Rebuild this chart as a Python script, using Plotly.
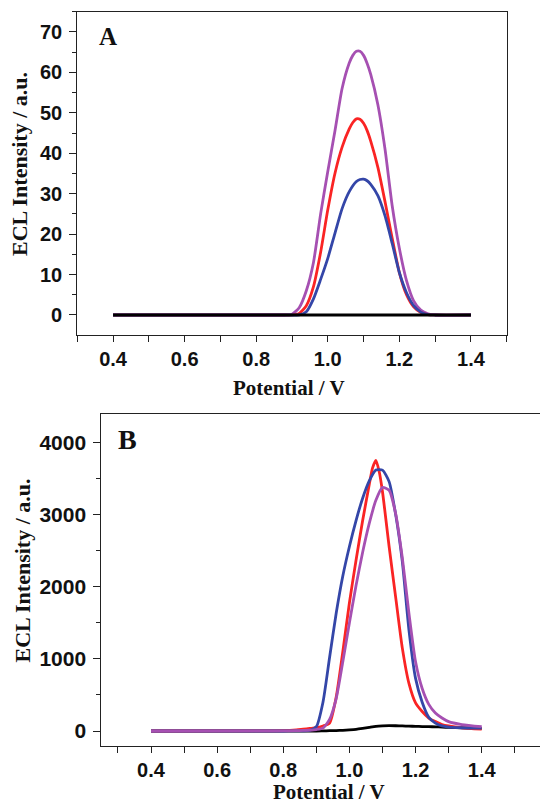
import plotly.graph_objects as go

W, H = 540, 804

# ---------------- Panel A data ----------------
a_purple_x = [0.40, 0.86, 0.88, 0.90, 0.92, 0.94, 0.96, 0.98, 1.00, 1.02, 1.04, 1.06,
              1.07, 1.08, 1.09, 1.10, 1.11, 1.12, 1.14, 1.16, 1.18, 1.20, 1.22, 1.24,
              1.26, 1.28, 1.30, 1.40]
a_purple = [0, 0, 0, 0.2, 1.8, 6, 13, 25, 35.5, 45.5, 56, 62.3,
            64.2, 65.2, 65.2, 64.2, 62.2, 59.5, 52, 41, 27, 16.5, 8.5, 3.5,
            1.2, 0.3, 0, 0]
a_red_x = [0.40, 0.86, 0.88, 0.90, 0.92, 0.94, 0.96, 0.98, 1.00, 1.02, 1.04, 1.06,
           1.07, 1.08, 1.09, 1.10, 1.11, 1.12, 1.14, 1.16, 1.18, 1.20, 1.22, 1.24,
           1.26, 1.28, 1.30, 1.40]
a_red = [0, 0, 0, 0, 0.4, 2.3, 7, 15.5, 26, 35, 41.5, 46.0,
         47.6, 48.5, 48.4, 47.4, 45.6, 43, 36.5, 28, 19, 10.5, 5, 2,
         0.6, 0.1, 0, 0]
a_blue_x = [0.40, 0.86, 0.88, 0.90, 0.92, 0.94, 0.96, 0.98, 1.00, 1.02, 1.04, 1.06,
            1.08, 1.09, 1.10, 1.11, 1.12, 1.14, 1.16, 1.18, 1.20, 1.22, 1.24, 1.26,
            1.28, 1.30, 1.40]
a_blue = [0, 0, 0, 0, 0, 0.8, 4, 8.8, 14, 20.2, 26.3, 30.5,
          33, 33.5, 33.6, 33.2, 32.3, 29.5, 24.5, 17.7, 10.5, 5.5, 2.3, 0.7,
          0.1, 0, 0]
a_black_x = [0.40, 1.40]
a_black = [0, 0]

# ---------------- Panel B data ----------------
b_black_x = [0.40, 0.90, 0.92, 0.94, 0.96, 0.98, 1.00, 1.02, 1.04, 1.06, 1.08,
             1.10, 1.12, 1.14, 1.16, 1.18, 1.20, 1.22, 1.24, 1.26, 1.28, 1.30, 1.34, 1.40]
b_black = [0, 0, 2, 4, 6, 10, 15, 22, 35, 50, 65,
           72, 75, 73, 70, 67, 65, 62, 60, 58, 54, 50, 43, 35]

b_red_x = [0.40, 0.80, 0.84, 0.86, 0.88, 0.90, 0.92, 0.94, 0.96, 0.98, 1.00, 1.02,
           1.04, 1.06, 1.07, 1.08, 1.09, 1.10, 1.12, 1.14, 1.16, 1.18, 1.20, 1.22,
           1.24, 1.26, 1.28, 1.30, 1.34, 1.40]
b_red = [0, 5, 15, 25, 35, 45, 70, 110, 470, 1100, 1780, 2370,
         2920, 3420, 3650, 3755, 3600, 3320, 2560, 1850, 1150, 660, 390, 270,
         180, 130, 90, 70, 45, 25]

b_blue_x = [0.40, 0.80, 0.84, 0.86, 0.88, 0.90, 0.92, 0.94, 0.96, 0.98, 1.00, 1.02,
            1.04, 1.06, 1.08, 1.10, 1.12, 1.14, 1.16, 1.18, 1.20, 1.22, 1.24, 1.26,
            1.28, 1.30, 1.34, 1.40]
b_blue = [0, 0, 1, 2, 8, 60, 400, 1020, 1633, 2150, 2560, 2920,
          3230, 3470, 3620, 3620, 3460, 3000, 2350, 1400, 730, 400, 190, 110,
          70, 55, 45, 40]

b_purple_x = [0.40, 0.80, 0.84, 0.86, 0.88, 0.90, 0.92, 0.94, 0.96, 0.98, 1.00, 1.02,
              1.04, 1.06, 1.08, 1.10, 1.12, 1.14, 1.16, 1.18, 1.20, 1.22, 1.24, 1.26,
              1.28, 1.30, 1.34, 1.40]
b_purple = [0, 2, 5, 8, 12, 20, 40, 160, 450, 960, 1500, 2020,
            2480, 2880, 3200, 3380, 3340, 3010, 2400, 1633, 960, 590, 370, 250,
            180, 130, 90, 60]

a_xticks = [0.4, 0.6, 0.8, 1.0, 1.2, 1.4]
a_yticks = [0, 10, 20, 30, 40, 50, 60, 70]
b_yticks = [0, 1000, 2000, 3000, 4000]

PURPLE = "#a650b2"
RED = "#fa2424"
BLUE = "#3446a8"
BLACK = "#000000"
AXC = "#222222"

def px(x):
    return x / W

def py(y):
    return 1 - y / H

fig = go.Figure()

def add(x, y, color, xa, ya, width=2.8):
    fig.add_trace(go.Scatter(x=x, y=y, mode="lines", xaxis=xa, yaxis=ya,
                             line=dict(color=color, width=width, shape="spline", smoothing=0.6),
                             showlegend=False, hoverinfo="skip"))

# Panel A order: purple, red, blue, black on top
add(a_purple_x, a_purple, PURPLE, "x", "y")
add(a_red_x, a_red, RED, "x", "y")
add(a_blue_x, a_blue, BLUE, "x", "y")
add(a_black_x, a_black, BLACK, "x", "y")

# Panel B order
add(b_black_x, b_black, BLACK, "x2", "y2")
add(b_red_x, b_red, RED, "x2", "y2")
add(b_blue_x, b_blue, BLUE, "x2", "y2")
add(b_purple_x, b_purple, PURPLE, "x2", "y2")

tickfont = dict(family="Liberation Sans, Arial", size=20, color="#111111", weight="bold")
tickfont_by = dict(family="Liberation Sans, Arial", size=21, color="#111111", weight="bold")

common = dict(showline=True, linecolor=AXC, linewidth=1.2, ticks="outside",
              tickcolor=AXC, tickwidth=1.2, showgrid=False, zeroline=False)

fig.update_layout(
    width=W, height=H, margin=dict(l=0, r=0, t=0, b=0),
    paper_bgcolor="white", plot_bgcolor="white",
    xaxis=dict(domain=[px(77.3), px(506.7)], range=[0.3, 1.5], anchor="y",
               tickvals=a_xticks, ticktext=["%.1f" % v for v in a_xticks], ticklen=6,
               minor=dict(dtick=0.1, tick0=0.3, ticklen=6, tickcolor=AXC, tickwidth=1.2, ticks="outside"),
               mirror=True, tickfont=tickfont, ticklabelstandoff=0, **common),
    yaxis=dict(domain=[py(335), py(11.7)], range=[-4.95, 75.0], anchor="x",
               tickvals=a_yticks, ticklen=7,
               minor=dict(dtick=5, tick0=0, ticklen=4, tickcolor=AXC, tickwidth=1.2, ticks="outside"),
               mirror=True, tickfont=tickfont, ticklabelstandoff=3, **common),
    xaxis2=dict(domain=[px(101.4), 1.0], range=[0.25, 0.4 + (540 - 151) / 330.7], anchor="y2",
                tickvals=a_xticks, ticktext=["%.1f" % v for v in a_xticks], ticklen=6,
                minor=dict(dtick=0.1, tick0=0.3, ticklen=6, tickcolor=AXC, tickwidth=1.2, ticks="outside"),
                mirror=True, tickfont=tickfont, ticklabelstandoff=0, **common),
    yaxis2=dict(domain=[py(745.7), py(414.3)], range=[-204, 4394], anchor="x2",
                tickvals=b_yticks, ticklen=7,
                minor=dict(dtick=500, tick0=0, ticklen=4, tickcolor=AXC, tickwidth=1.2, ticks="outside"),
                mirror=False, tickfont=tickfont_by, ticklabelstandoff=3, **common),
)

serif_t = dict(family="Liberation Serif, Times New Roman", color="#111111", weight="bold")

annots = [
    dict(text="Potential / V", x=px(289), y=py(388), size=21, angle=0),
    dict(text="Potential / V", x=px(329), y=py(792), size=21, angle=0),
    dict(text="ECL Intensity / a.u.", x=px(20), y=py(164), size=22, angle=-90),
    dict(text="ECL Intensity / a.u.", x=px(21.5), y=py(571), size=22, angle=-90),
    dict(text="A", x=px(107.7), y=py(36), size=25, angle=0),
    dict(text="B", x=px(127), y=py(440), size=28, angle=0),
]
for a in annots:
    fig.add_annotation(text=a["text"], x=a["x"], y=a["y"], xref="paper", yref="paper",
                       xanchor="center", yanchor="middle", showarrow=False,
                       textangle=a["angle"], font=dict(size=a["size"], **serif_t))

fig.write_html("out.html", config={"displayModeBar": False},
               post_script="document.body.style.margin='0';")
